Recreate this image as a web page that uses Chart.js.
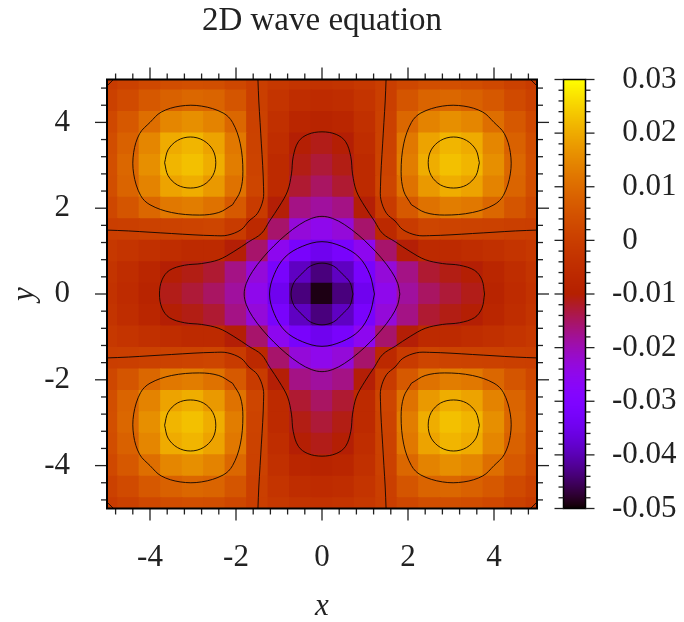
<!DOCTYPE html>
<html>
<head>
<meta charset="utf-8">
<script src="https://cdn.jsdelivr.net/npm/chart.js@4.4.0/dist/chart.umd.min.js"></script>
<style>
  html, body { margin: 0; padding: 0; background: #fff; }
  #wrap { width: 684px; height: 622px; }
</style>
</head>
<body>
<div id="wrap"><canvas id="chart" width="684" height="622"></canvas></div>
<script>
// sample grid, step 0.5
var gridX = [-5,-4.5,-4,-3.5,-3,-2.5,-2,-1.5,-1,-0.5,0,0.5,1,1.5,2,2.5,3,3.5,4,4.5,5];
var gridY = [5,4.5,4,3.5,3,2.5,2,1.5,1,0.5,0,-0.5,-1,-1.5,-2,-2.5,-3,-3.5,-4,-4.5,-5];
var zRows = [
  [-0.0008,0.0008,0.0025,0.0036,0.0042,0.0038,0.0022,0,-0.0018,-0.003,-0.0035,-0.003,-0.0018,0,0.0022,0.0038,0.0042,0.0036,0.0025,0.0008,-0.0008],
  [0.0008,0.003,0.0062,0.008,0.0092,0.0085,0.0055,0.0003,-0.0028,-0.005,-0.0058,-0.005,-0.0028,0.0003,0.0055,0.0085,0.0092,0.008,0.0062,0.003,0.0008],
  [0.0025,0.0062,0.0105,0.0145,0.0159,0.014,0.0092,0.0007,-0.004,-0.0075,-0.0085,-0.0075,-0.004,0.0007,0.0092,0.014,0.0159,0.0145,0.0105,0.0062,0.0025],
  [0.0036,0.008,0.0145,0.02,0.0213,0.0189,0.0122,0.0009,-0.0052,-0.0102,-0.0112,-0.0102,-0.0052,0.0009,0.0122,0.0189,0.0213,0.02,0.0145,0.008,0.0036],
  [0.0042,0.0092,0.0159,0.0213,0.0228,0.0203,0.013,0.0012,-0.0061,-0.011,-0.0128,-0.011,-0.0061,0.0012,0.013,0.0203,0.0228,0.0213,0.0159,0.0092,0.0042],
  [0.0038,0.0085,0.014,0.0189,0.0203,0.0175,0.0112,0.0018,-0.006,-0.0125,-0.015,-0.0125,-0.006,0.0018,0.0112,0.0175,0.0203,0.0189,0.014,0.0085,0.0038],
  [0.0022,0.0055,0.0092,0.0122,0.013,0.0112,0.0064,-0.001,-0.0103,-0.017,-0.0185,-0.017,-0.0103,-0.001,0.0064,0.0112,0.013,0.0122,0.0092,0.0055,0.0022],
  [0,0.0003,0.0007,0.0009,0.0012,0.0018,-0.001,-0.0066,-0.0155,-0.023,-0.025,-0.023,-0.0155,-0.0066,-0.001,0.0018,0.0012,0.0009,0.0007,0.0003,0],
  [-0.0018,-0.0028,-0.004,-0.0052,-0.0061,-0.006,-0.0103,-0.0155,-0.0255,-0.032,-0.0345,-0.032,-0.0255,-0.0155,-0.0103,-0.006,-0.0061,-0.0052,-0.004,-0.0028,-0.0018],
  [-0.003,-0.005,-0.0075,-0.0102,-0.011,-0.0125,-0.017,-0.023,-0.032,-0.039,-0.0435,-0.039,-0.032,-0.023,-0.017,-0.0125,-0.011,-0.0102,-0.0075,-0.005,-0.003],
  [-0.0035,-0.0058,-0.0085,-0.0112,-0.0128,-0.015,-0.0185,-0.025,-0.0345,-0.0435,-0.049,-0.0435,-0.0345,-0.025,-0.0185,-0.015,-0.0128,-0.0112,-0.0085,-0.0058,-0.0035],
  [-0.003,-0.005,-0.0075,-0.0102,-0.011,-0.0125,-0.017,-0.023,-0.032,-0.039,-0.0435,-0.039,-0.032,-0.023,-0.017,-0.0125,-0.011,-0.0102,-0.0075,-0.005,-0.003],
  [-0.0018,-0.0028,-0.004,-0.0052,-0.0061,-0.006,-0.0103,-0.0155,-0.0255,-0.032,-0.0345,-0.032,-0.0255,-0.0155,-0.0103,-0.006,-0.0061,-0.0052,-0.004,-0.0028,-0.0018],
  [0,0.0003,0.0007,0.0009,0.0012,0.0018,-0.001,-0.0066,-0.0155,-0.023,-0.025,-0.023,-0.0155,-0.0066,-0.001,0.0018,0.0012,0.0009,0.0007,0.0003,0],
  [0.0022,0.0055,0.0092,0.0122,0.013,0.0112,0.0064,-0.001,-0.0103,-0.017,-0.0185,-0.017,-0.0103,-0.001,0.0064,0.0112,0.013,0.0122,0.0092,0.0055,0.0022],
  [0.0038,0.0085,0.014,0.0189,0.0203,0.0175,0.0112,0.0018,-0.006,-0.0125,-0.015,-0.0125,-0.006,0.0018,0.0112,0.0175,0.0203,0.0189,0.014,0.0085,0.0038],
  [0.0042,0.0092,0.0159,0.0213,0.0228,0.0203,0.013,0.0012,-0.0061,-0.011,-0.0128,-0.011,-0.0061,0.0012,0.013,0.0203,0.0228,0.0213,0.0159,0.0092,0.0042],
  [0.0036,0.008,0.0145,0.02,0.0213,0.0189,0.0122,0.0009,-0.0052,-0.0102,-0.0112,-0.0102,-0.0052,0.0009,0.0122,0.0189,0.0213,0.02,0.0145,0.008,0.0036],
  [0.0025,0.0062,0.0105,0.0145,0.0159,0.014,0.0092,0.0007,-0.004,-0.0075,-0.0085,-0.0075,-0.004,0.0007,0.0092,0.014,0.0159,0.0145,0.0105,0.0062,0.0025],
  [0.0008,0.003,0.0062,0.008,0.0092,0.0085,0.0055,0.0003,-0.0028,-0.005,-0.0058,-0.005,-0.0028,0.0003,0.0055,0.0085,0.0092,0.008,0.0062,0.003,0.0008],
  [-0.0008,0.0008,0.0025,0.0036,0.0042,0.0038,0.0022,0,-0.0018,-0.003,-0.0035,-0.003,-0.0018,0,0.0022,0.0038,0.0042,0.0036,0.0025,0.0008,-0.0008]
];

// contour lines
var cNeg04 = [[0.72,0],[0.65,0.27],[0.47,0.47],[0.27,0.65],[0,0.72],[-0.27,0.65],[-0.47,0.47],[-0.65,0.27],[-0.72,0],[-0.65,-0.27],[-0.47,-0.47],[-0.27,-0.65],[0,-0.72],[0.27,-0.65],[0.47,-0.47],[0.65,-0.27],[0.72,0]];
var cNeg03 = [[1.22,0],[1.11,0.46],[0.86,0.86],[0.46,1.11],[0,1.22],[-0.46,1.11],[-0.86,0.86],[-1.11,0.46],[-1.22,0],[-1.11,-0.46],[-0.86,-0.86],[-0.46,-1.11],[0,-1.22],[0.46,-1.11],[0.86,-0.86],[1.11,-0.46],[1.22,0]];
var cNeg02 = [[1.81,0],[1.76,0.25],[1.62,0.52],[1.38,0.84],[1.12,1.12],[0.84,1.38],[0.52,1.62],[0.25,1.76],[0,1.81],
  [-0.25,1.76],[-0.52,1.62],[-0.84,1.38],[-1.12,1.12],[-1.38,0.84],[-1.62,0.52],[-1.76,0.25],[-1.81,0],
  [-1.76,-0.25],[-1.62,-0.52],[-1.38,-0.84],[-1.12,-1.12],[-0.84,-1.38],[-0.52,-1.62],[-0.25,-1.76],[0,-1.81],
  [0.25,-1.76],[0.52,-1.62],[0.84,-1.38],[1.12,-1.12],[1.38,-0.84],[1.62,-0.52],[1.76,-0.25],[1.81,0]];
var cNeg01 = [[3.78,0],[3.72,0.33],[3.55,0.55],[3.2,0.67],[2.8,0.71],[2.4,0.8],[2.05,0.99],[1.7,1.22],[1.41,1.41],[1.22,1.7],[0.99,2.05],[0.8,2.4],[0.71,2.8],[0.67,3.2],[0.55,3.55],[0.33,3.72],[0,3.78],
  [-0.33,3.72],[-0.55,3.55],[-0.67,3.2],[-0.71,2.8],[-0.8,2.4],[-0.99,2.05],[-1.22,1.7],[-1.41,1.41],[-1.7,1.22],[-2.05,0.99],[-2.4,0.8],[-2.8,0.71],[-3.2,0.67],[-3.55,0.55],[-3.72,0.33],[-3.78,0],
  [-3.72,-0.33],[-3.55,-0.55],[-3.2,-0.67],[-2.8,-0.71],[-2.4,-0.8],[-2.05,-0.99],[-1.7,-1.22],[-1.41,-1.41],[-1.22,-1.7],[-0.99,-2.05],[-0.8,-2.4],[-0.71,-2.8],[-0.67,-3.2],[-0.55,-3.55],[-0.33,-3.72],[0,-3.78],
  [0.33,-3.72],[0.55,-3.55],[0.67,-3.2],[0.71,-2.8],[0.8,-2.4],[0.99,-2.05],[1.22,-1.7],[1.41,-1.41],[1.7,-1.22],[2.05,-0.99],[2.4,-0.8],[2.8,-0.71],[3.2,-0.67],[3.55,-0.55],[3.72,-0.33],[3.78,0]];

var cZero1 = [[1.49,5],[1.47,4.5],[1.44,4],[1.41,3.5],[1.38,3],[1.36,2.5],[1.37,2.2],[1.5,1.88],[1.7,1.7],[1.88,1.5],[2.2,1.37],[2.5,1.36],[3,1.38],[3.5,1.41],[4,1.44],[4.5,1.47],[5,1.49]];
var cZero2 = [[-1.49,5],[-1.47,4.5],[-1.44,4],[-1.41,3.5],[-1.38,3],[-1.36,2.5],[-1.37,2.2],[-1.5,1.88],[-1.7,1.7],[-1.88,1.5],[-2.2,1.37],[-2.5,1.36],[-3,1.38],[-3.5,1.41],[-4,1.44],[-4.5,1.47],[-5,1.49]];
var cZero3 = [[-1.49,-5],[-1.47,-4.5],[-1.44,-4],[-1.41,-3.5],[-1.38,-3],[-1.36,-2.5],[-1.37,-2.2],[-1.5,-1.88],[-1.7,-1.7],[-1.88,-1.5],[-2.2,-1.37],[-2.5,-1.36],[-3,-1.38],[-3.5,-1.41],[-4,-1.44],[-4.5,-1.47],[-5,-1.49]];
var cZero4 = [[1.49,-5],[1.47,-4.5],[1.44,-4],[1.41,-3.5],[1.38,-3],[1.36,-2.5],[1.37,-2.2],[1.5,-1.88],[1.7,-1.7],[1.88,-1.5],[2.2,-1.37],[2.5,-1.36],[3,-1.38],[3.5,-1.41],[4,-1.44],[4.5,-1.47],[5,-1.49]];
var cCorner1 = [[4.85,5],[5,4.85]];
var cCorner2 = [[-4.85,5],[-5,4.85]];
var cCorner3 = [[-4.85,-5],[-5,-4.85]];
var cCorner4 = [[4.85,-5],[5,-4.85]];

var cPos01a = [[2.08,2.08],[2.4,1.9],[2.85,1.84],[3.5,1.9],[4,2.08],[4.22,2.3],[4.38,2.8],[4.38,3.3],[4.24,3.74],[4,4],[3.74,4.24],[3.3,4.38],[2.8,4.38],[2.3,4.22],[2.08,4],[1.9,3.5],[1.84,2.85],[1.9,2.4],[2.08,2.08]];
var cPos01b = [[-2.08,2.08],[-2.4,1.9],[-2.85,1.84],[-3.5,1.9],[-4,2.08],[-4.22,2.3],[-4.38,2.8],[-4.38,3.3],[-4.24,3.74],[-4,4],[-3.74,4.24],[-3.3,4.38],[-2.8,4.38],[-2.3,4.22],[-2.08,4],[-1.9,3.5],[-1.84,2.85],[-1.9,2.4],[-2.08,2.08]];
var cPos01c = [[-2.08,-2.08],[-2.4,-1.9],[-2.85,-1.84],[-3.5,-1.9],[-4,-2.08],[-4.22,-2.3],[-4.38,-2.8],[-4.38,-3.3],[-4.24,-3.74],[-4,-4],[-3.74,-4.24],[-3.3,-4.38],[-2.8,-4.38],[-2.3,-4.22],[-2.08,-4],[-1.9,-3.5],[-1.84,-2.85],[-1.9,-2.4],[-2.08,-2.08]];
var cPos01d = [[2.08,-2.08],[2.4,-1.9],[2.85,-1.84],[3.5,-1.9],[4,-2.08],[4.22,-2.3],[4.38,-2.8],[4.38,-3.3],[4.24,-3.74],[4,-4],[3.74,-4.24],[3.3,-4.38],[2.8,-4.38],[2.3,-4.22],[2.08,-4],[1.9,-3.5],[1.84,-2.85],[1.9,-2.4],[2.08,-2.08]];

var cPos02a = [[3.66,3.06],[3.58,3.36],[3.36,3.58],[3.06,3.66],[2.76,3.58],[2.54,3.36],[2.47,3.06],[2.54,2.76],[2.76,2.54],[3.06,2.47],[3.36,2.54],[3.58,2.76],[3.66,3.06]];
var cPos02b = [[-3.66,3.06],[-3.58,3.36],[-3.36,3.58],[-3.06,3.66],[-2.76,3.58],[-2.54,3.36],[-2.47,3.06],[-2.54,2.76],[-2.76,2.54],[-3.06,2.47],[-3.36,2.54],[-3.58,2.76],[-3.66,3.06]];
var cPos02c = [[-3.66,-3.06],[-3.58,-3.36],[-3.36,-3.58],[-3.06,-3.66],[-2.76,-3.58],[-2.54,-3.36],[-2.47,-3.06],[-2.54,-2.76],[-2.76,-2.54],[-3.06,-2.47],[-3.36,-2.54],[-3.58,-2.76],[-3.66,-3.06]];
var cPos02d = [[3.66,-3.06],[3.58,-3.36],[3.36,-3.58],[3.06,-3.66],[2.76,-3.58],[2.54,-3.36],[2.47,-3.06],[2.54,-2.76],[2.76,-2.54],[3.06,-2.47],[3.36,-2.54],[3.58,-2.76],[3.66,-3.06]];

var xTickVals = [-4, -2, 0, 2, 4];
var xTickLabels = ['-4', '-2', '0', '2', '4'];
var yTickVals = [-4, -2, 0, 2, 4];
var yTickLabels = ['-4', '-2', '0', '2', '4'];
var minorTicks = [-4.8,-4.4,-3.6,-3.2,-2.8,-2.4,-1.6,-1.2,-0.8,-0.4,0.4,0.8,1.2,1.6,2.4,2.8,3.2,3.6,4.4,4.8];
var cbTickVals = [-0.05, -0.04, -0.03, -0.02, -0.01, 0, 0.01, 0.02, 0.03];
var cbTickLabels = ['-0.05', '-0.04', '-0.03', '-0.02', '-0.01', '0', '0.01', '0.02', '0.03'];
var cbMin = -0.05, cbMax = 0.03;

var serif = "'Liberation Serif', 'DejaVu Serif', serif";
var ink = '#222';

// gnuplot default palette (rgbformulae 7,5,15)
function palette(v) {
    var t = (v - cbMin) / (cbMax - cbMin);
    t = Math.max(0, Math.min(1, t));
    var r = Math.sqrt(t), g = t * t * t, b = Math.max(0, Math.sin(2 * Math.PI * t));
    return 'rgb(' + Math.round(r * 255) + ',' + Math.round(g * 255) + ',' + Math.round(b * 255) + ')';
}

var heatData = [];
for (var r = 0; r < gridY.length; r++) {
    for (var c = 0; c < gridX.length; c++) {
        heatData.push({x: gridX[c], y: gridY[r], v: zRows[r][c]});
    }
}

var contours = [cNeg04, cNeg03, cNeg02, cNeg01, cZero1, cZero2, cZero3, cZero4,
    cCorner1, cCorner2, cCorner3, cCorner4, cPos01a, cPos01b, cPos01c, cPos01d,
    cPos02a, cPos02b, cPos02c, cPos02d];

var datasets = contours.map(function(line) {
    return {
        type: 'scatter',
        data: line.map(function(p) { return {x: p[0], y: p[1]}; }),
        showLine: true,
        borderColor: 'rgba(15,5,0,0.9)',
        borderWidth: 1,
        pointRadius: 0,
        tension: 0.35,
        order: 0,
        clip: 0,
        xAxisID: 'x',
        yAxisID: 'y'
    };
});

datasets.push({
    type: 'scatter',
    data: heatData,
    order: 1,
    clip: 0,
    pointStyle: 'rect',
    pointBorderWidth: 0,
    pointRadius: function(ctx) {
        var s = ctx.chart.scales.x;
        var half = Math.abs(s.getPixelForValue(0.25) - s.getPixelForValue(0));
        return (half + 0.6) / Math.SQRT1_2;
    },
    pointBackgroundColor: function(ctx) {
        return ctx.raw ? palette(ctx.raw.v) : '#000';
    },
    xAxisID: 'x',
    yAxisID: 'y'
});

var frameTicks = {
    id: 'frameTicks',
    afterDraw: function(chart) {
        var ctx = chart.ctx, a = chart.chartArea;
        var xs = chart.scales.x, ys = chart.scales.y, cb = chart.scales.cb;
        function seg(x0, y0, x1, y1) { ctx.beginPath(); ctx.moveTo(x0, y0); ctx.lineTo(x1, y1); ctx.stroke(); }
        ctx.save();
        ctx.strokeStyle = ink;
        ctx.lineWidth = 1.3;
        xTickVals.forEach(function(v) {
            var p = xs.getPixelForValue(v);
            seg(p, a.bottom, p, a.bottom + 12); seg(p, a.top, p, a.top - 12);
        });
        minorTicks.forEach(function(v) {
            var p = xs.getPixelForValue(v);
            seg(p, a.bottom, p, a.bottom + 6); seg(p, a.top, p, a.top - 6);
        });
        yTickVals.forEach(function(v) {
            var p = ys.getPixelForValue(v);
            seg(a.left, p, a.left - 12, p); seg(a.right, p, a.right + 12, p);
        });
        minorTicks.forEach(function(v) {
            var p = ys.getPixelForValue(v);
            seg(a.left, p, a.left - 6, p); seg(a.right, p, a.right + 6, p);
        });
        ctx.strokeStyle = '#000';
        ctx.lineWidth = 2;
        ctx.strokeRect(a.left, a.top, a.right - a.left, a.bottom - a.top);

        // colour bar
        var bx0 = cb.left + 26.5, bx1 = cb.left + 48.5;
        for (var py = Math.floor(cb.top); py < cb.bottom; py++) {
            ctx.fillStyle = palette(cb.getValueForPixel(py + 0.5));
            ctx.fillRect(bx0, py, bx1 - bx0, 1);
        }
        ctx.lineWidth = 1.5;
        ctx.strokeRect(bx0, cb.top, bx1 - bx0, cb.bottom - cb.top);
        ctx.strokeStyle = ink;
        ctx.lineWidth = 1.3;
        cbTickVals.forEach(function(v, i) {
            var p = cb.getPixelForValue(v);
            seg(bx0, p, bx0 - 9, p); seg(bx1, p, bx1 + 9, p);
            if (i < cbTickVals.length - 1) {
                for (var k = 1; k < 5; k++) {
                    var q = cb.getPixelForValue(v + k * 0.002);
                    seg(bx0, q, bx0 - 5, q); seg(bx1, q, bx1 + 5, q);
                }
            }
        });
        ctx.restore();
    }
};

var chart = new Chart(document.getElementById('chart'), {
    data: { datasets: datasets },
    options: {
        responsive: false,
        animation: false,
        devicePixelRatio: 1,
        events: [],
        layout: { padding: 0, autoPadding: false },
        plugins: {
            legend: { display: false },
            tooltip: { enabled: false },
            title: {
                display: true,
                fullSize: false,
                text: '2D wave equation',
                color: ink,
                font: { family: serif, size: 33, weight: 'normal', lineHeight: 1.2 },
                padding: { top: 1.2, bottom: 38.7 }
            }
        },
        scales: {
            x: {
                type: 'linear', position: 'bottom', min: -5, max: 5,
                grid: { display: false, drawTicks: false },
                border: { display: false },
                ticks: {
                    autoSkip: false, maxRotation: 0, padding: 31, color: ink,
                    font: { family: serif, size: 31 },
                    callback: function(v, i) { return xTickLabels[i]; }
                },
                afterBuildTicks: function(s) { s.ticks = xTickVals.map(function(v) { return {value: v}; }); },
                afterFit: function(s) { s.height = 113.5; },
                title: {
                    display: true, text: 'x', color: ink,
                    font: { family: serif, size: 31, style: 'italic', lineHeight: 1 },
                    padding: { top: 0, bottom: 0 }
                }
            },
            y: {
                type: 'linear', position: 'left', min: -5, max: 5,
                grid: { display: false, drawTicks: true, tickLength: 37 },
                border: { display: false },
                ticks: {
                    autoSkip: false, padding: 0, color: ink,
                    font: { family: serif, size: 31 },
                    callback: function(v, i) { return yTickLabels[i]; }
                },
                afterBuildTicks: function(s) { s.ticks = yTickVals.map(function(v) { return {value: v}; }); },
                afterFit: function(s) { s.width = 107; },
                title: {
                    display: true, text: 'y', color: ink,
                    font: { family: serif, size: 31, style: 'italic', lineHeight: 1 },
                    padding: { top: 9.5, bottom: 0 }
                }
            },
            cb: {
                type: 'linear', position: 'right', min: cbMin, max: cbMax,
                grid: { display: false, drawTicks: true, tickLength: 75 },
                border: { display: false },
                ticks: {
                    autoSkip: false, padding: 0, color: ink,
                    font: { family: serif, size: 31 },
                    callback: function(v, i) {
                        return (cbTickVals[i] >= 0 ? '\u2004' : '') + cbTickLabels[i];
                    }
                },
                afterBuildTicks: function(s) { s.ticks = cbTickVals.map(function(v) { return {value: v}; }); },
                afterFit: function(s) { s.width = 147; }
            }
        }
    },
    plugins: [frameTicks]
});
</script>
</body>
</html>
